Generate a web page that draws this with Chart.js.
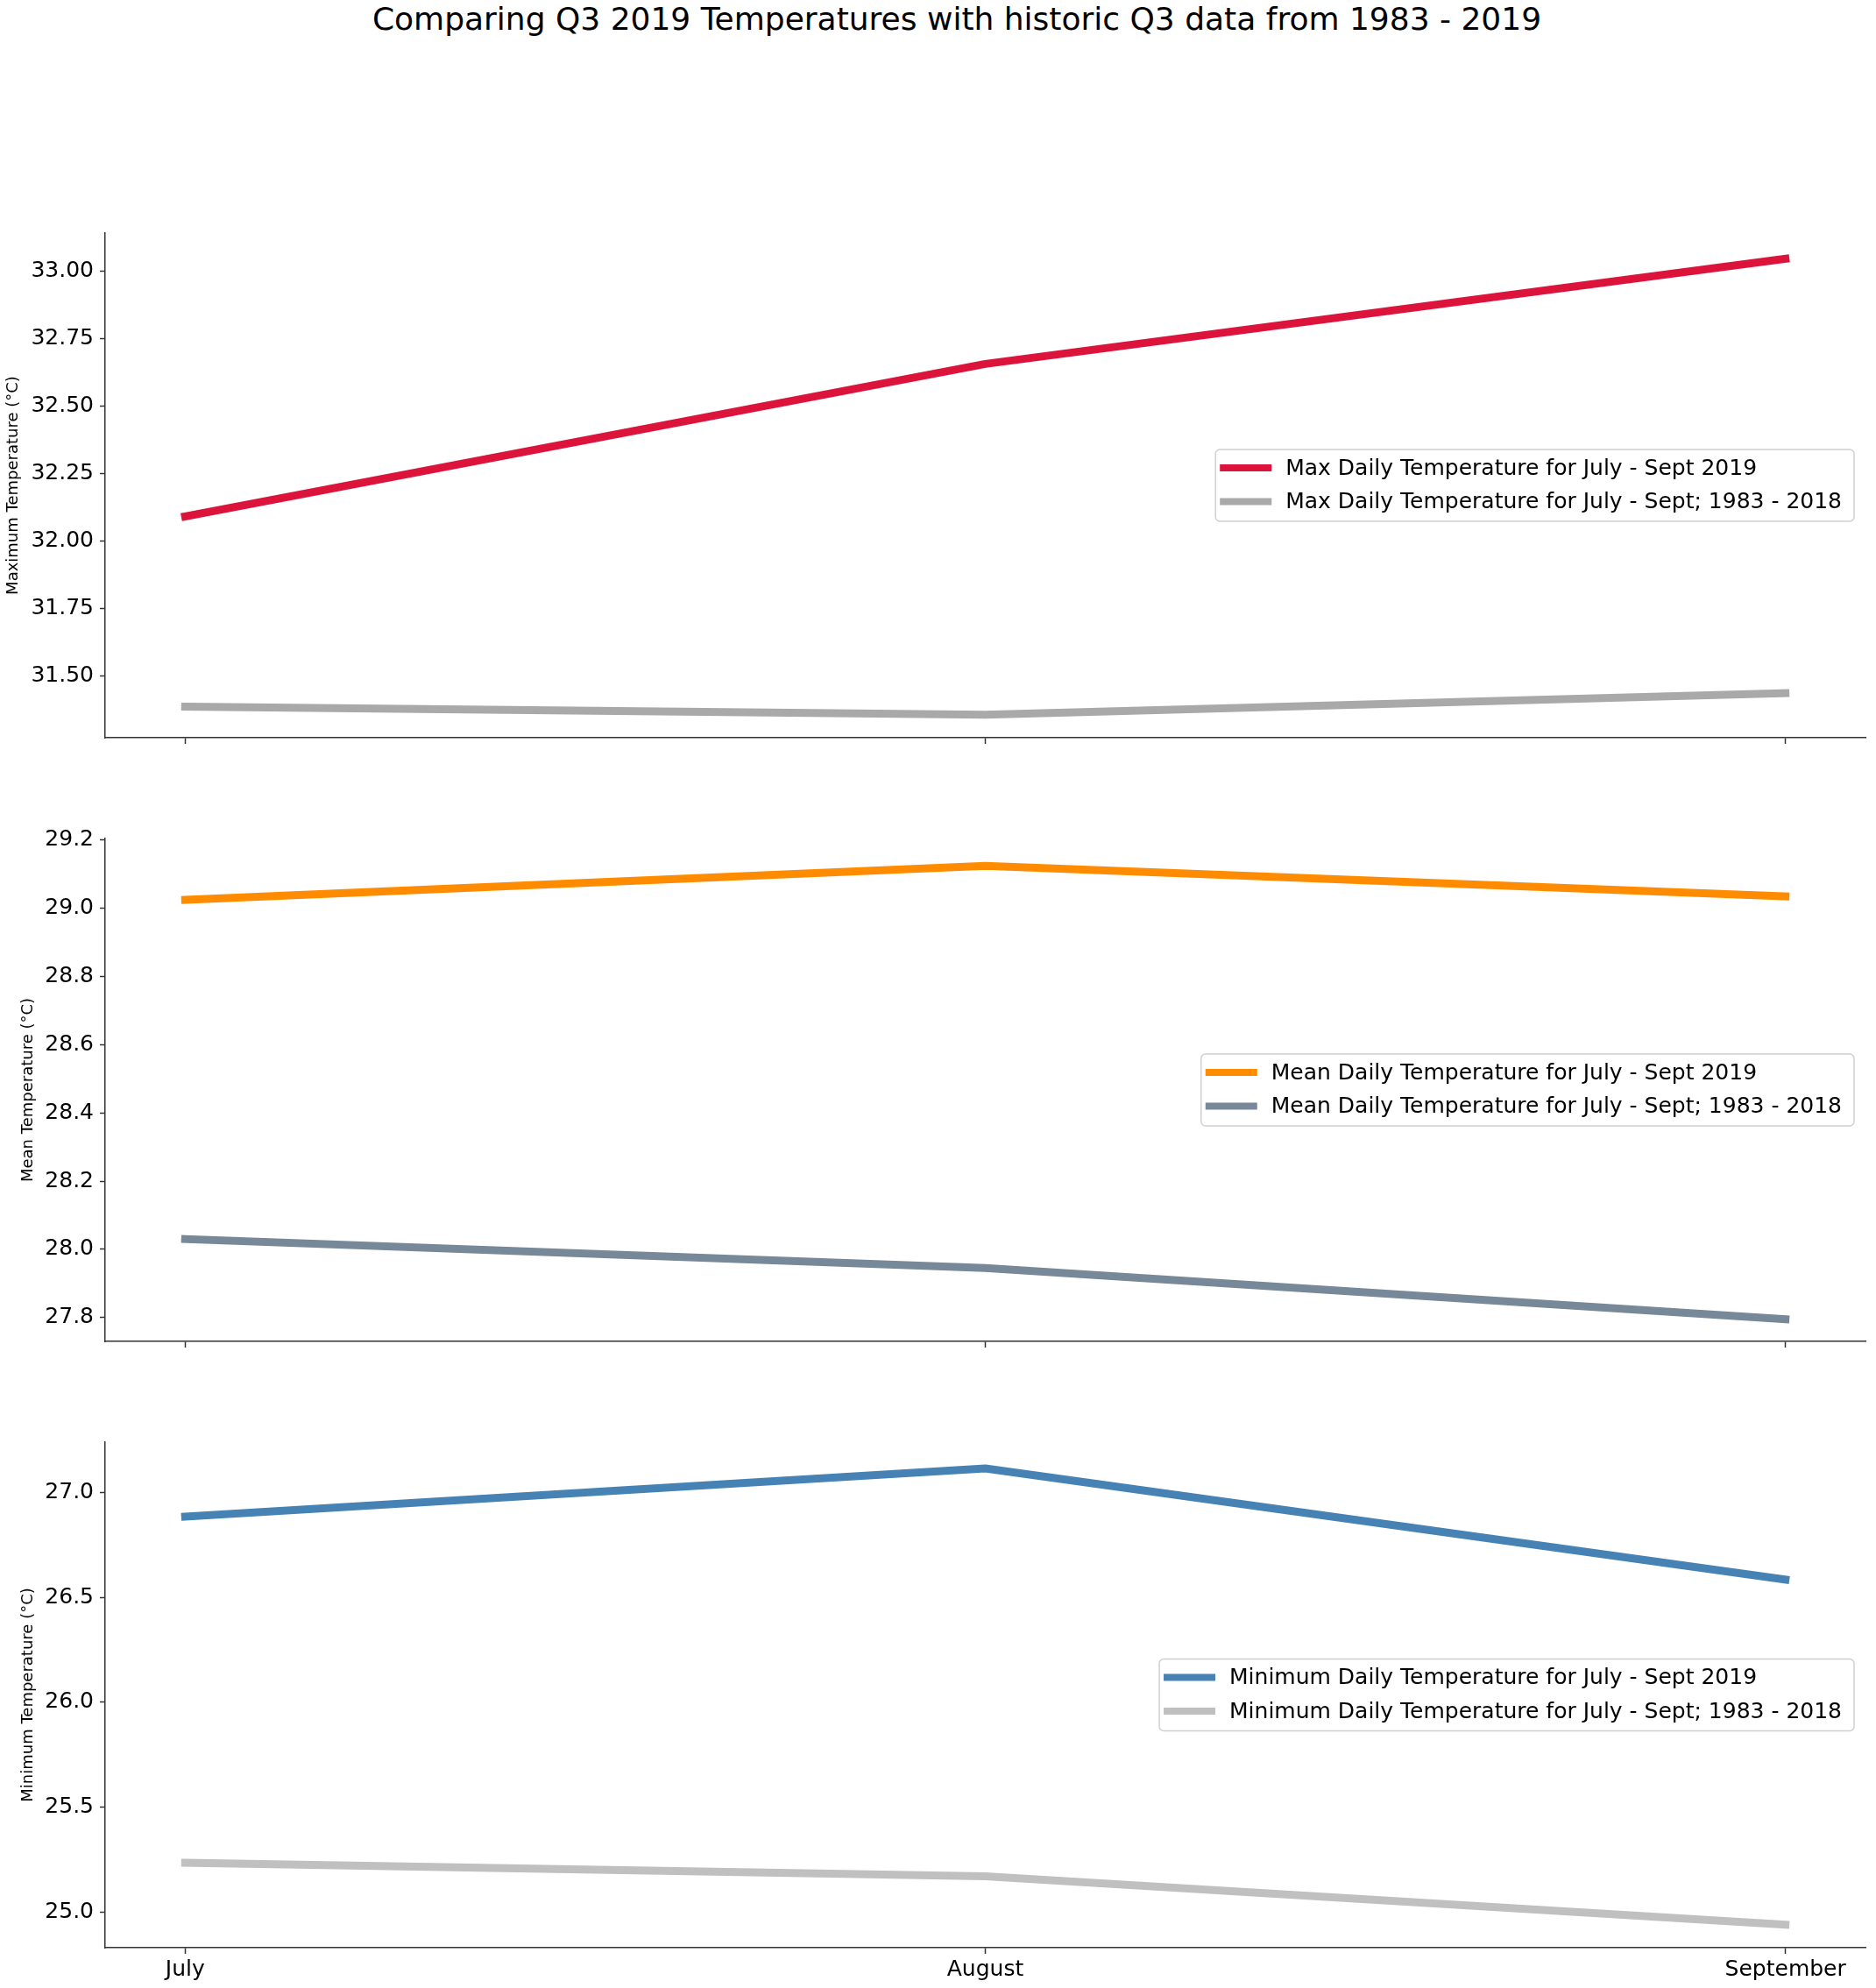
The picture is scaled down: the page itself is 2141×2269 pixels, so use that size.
<!DOCTYPE html>
<html>
<head>
<meta charset="utf-8">
<title>Q3 2019 Temperatures</title>
<script src="https://cdn.jsdelivr.net/npm/chart.js@4.4.1/dist/chart.umd.min.js"></script>
<style>
  html, body { margin: 0; padding: 0; background: #fff; }
  body { width: 2141px; height: 2269px; position: relative; overflow: hidden; font-family: "DejaVu Sans", sans-serif; }
  #title { position: absolute; top: 0; left: 0; width: 2184px; text-align: center; font-size: 36px; line-height: 44px; color: #000; }
  canvas { position: absolute; left: 0; }
</style>
</head>
<body>
<div id="title">Comparing Q3 2019 Temperatures with historic Q3 data from 1983 - 2019</div>
<canvas id="maxChart" width="2141" height="882" style="top:0px"></canvas>
<canvas id="meanChart" width="2141" height="671" style="top:900px"></canvas>
<canvas id="minChart" width="2141" height="698" style="top:1571px"></canvas>
<script>
// ─── Data ──────────────────────────────────────────────────────────────────────
const months = ['July', 'August', 'September'];

const max2019 = [32.09, 32.655, 33.045];
const maxHist = [31.385, 31.355, 31.435];
const mean2019 = [29.025, 29.125, 29.035];
const meanHist = [28.03, 27.945, 27.795];
const min2019 = [26.885, 27.115, 26.585];
const minHist = [25.235, 25.17, 24.94];

const maxTicks = [31.5, 31.75, 32.0, 32.25, 32.5, 32.75, 33.0];
const meanTicks = [27.8, 28.0, 28.2, 28.4, 28.6, 28.8, 29.0, 29.2];
const minTicks = [25.0, 25.5, 26.0, 26.5, 27.0];

// ─── Shared bits ───────────────────────────────────────────────────────────────
Chart.defaults.font.family = '"DejaVu Sans", sans-serif';
Chart.defaults.color = '#000';

const AXIS = '#333333';
const toPoints = vals => vals.map((v, i) => ({ x: i, y: v }));

// legend box drawn inside the plot, matplotlib "center right" style
const boxLegend = {
  id: 'boxLegend',
  afterDatasetsDraw(chart) {
    const { ctx, chartArea } = chart;
    const sets = chart.data.datasets;
    ctx.save();
    ctx.font = '25px "DejaVu Sans"';
    const textW = Math.max(...sets.map(d => ctx.measureText(d.label).width));
    const w = 80 + textW + 14, h = 82;
    const x = chartArea.right - 13 - w;
    const y = (chartArea.top + chartArea.bottom) / 2 - h / 2;

    ctx.beginPath();
    ctx.roundRect(x, y, w, h, 5);
    ctx.fillStyle = 'rgba(255,255,255,0.85)';
    ctx.fill();
    ctx.strokeStyle = '#d0d0d0';
    ctx.lineWidth = 1.5;
    ctx.stroke();

    sets.forEach((d, i) => {
      const cy = y + 21 + i * 38.5;
      ctx.beginPath();
      ctx.moveTo(x + 5, cy);
      ctx.lineTo(x + 64, cy);
      ctx.strokeStyle = d.borderColor;
      ctx.lineWidth = 8;
      ctx.lineCap = 'butt';
      ctx.stroke();
      ctx.fillStyle = '#000';
      ctx.textBaseline = 'middle';
      ctx.fillText(d.label, x + 80, cy + 1);
    });
    ctx.restore();
  }
};

function line(label, vals, color) {
  return {
    label,
    data: toPoints(vals),
    borderColor: color,
    backgroundColor: color,
    borderWidth: 9,
    borderCapStyle: 'square',
    borderJoinStyle: 'round',
    pointRadius: 0,
    tension: 0,
    fill: false
  };
}

function makeChart(id, cfg) {
  new Chart(document.getElementById(id), {
    type: 'line',
    data: { datasets: cfg.datasets },
    plugins: [boxLegend],
    options: {
      responsive: false,
      animation: false,
      layout: { padding: { top: cfg.padTop, right: 12, left: 0, bottom: 0 } },
      plugins: { legend: { display: false }, tooltip: { enabled: false } },
      scales: {
        x: {
          type: 'linear',
          min: -0.1,
          max: 2.1,
          afterBuildTicks: axis => { axis.ticks = months.map((m, i) => ({ value: i })); },
          afterFit: axis => { axis.height = cfg.xHeight; },
          ticks: {
            display: cfg.showMonths,
            callback: v => months[v],
            font: { size: 25 },
            padding: 3,
            maxRotation: 0
          },
          grid: { display: true, drawOnChartArea: false, drawTicks: true, tickLength: 7, tickColor: AXIS, tickWidth: 1.5 },
          border: { display: true, color: AXIS, width: 1.5 }
        },
        y: {
          type: 'linear',
          min: cfg.yMin,
          max: cfg.yMax,
          afterBuildTicks: axis => { axis.ticks = cfg.yTicks.map(v => ({ value: v })); },
          afterFit: axis => { axis.width = 120; },
          ticks: {
            callback: v => v.toFixed(cfg.digits),
            font: { size: 25 },
            padding: 7
          },
          title: {
            display: true,
            text: cfg.yTitle,
            font: { size: 18 },
            padding: { top: cfg.titlePad, bottom: 0 }
          },
          grid: { display: true, drawOnChartArea: false, drawTicks: true, tickLength: 6, tickColor: AXIS, tickWidth: 1.5 },
          border: { display: true, color: AXIS, width: 1.5 }
        }
      }
    }
  });
}

// ─── Panels ────────────────────────────────────────────────────────────────────
makeChart('maxChart', {
  datasets: [
    line('Max Daily Temperature for July - Sept 2019', max2019, '#DC143C'),
    line('Max Daily Temperature for July - Sept; 1983 - 2018', maxHist, '#A9A9A9')
  ],
  padTop: 266, xHeight: 40, showMonths: false,
  yMin: 31.27, yMax: 33.14, yTicks: maxTicks, digits: 2,
  yTitle: 'Maximum Temperature (°C)', titlePad: 5
});

makeChart('meanChart', {
  datasets: [
    line('Mean Daily Temperature for July - Sept 2019', mean2019, '#FF8C00'),
    line('Mean Daily Temperature for July - Sept; 1983 - 2018', meanHist, '#778899')
  ],
  padTop: 57, xHeight: 40, showMonths: false,
  yMin: 27.73, yMax: 29.205, yTicks: meanTicks, digits: 1,
  yTitle: 'Mean Temperature (°C)', titlePad: 22
});

makeChart('minChart', {
  datasets: [
    line('Minimum Daily Temperature for July - Sept 2019', min2019, '#4682B4'),
    line('Minimum Daily Temperature for July - Sept; 1983 - 2018', minHist, '#C0C0C0')
  ],
  padTop: 75, xHeight: 46, showMonths: true,
  yMin: 24.83, yMax: 27.24, yTicks: minTicks, digits: 1,
  yTitle: 'Minimum Temperature (°C)', titlePad: 22
});
</script>
</body>
</html>
